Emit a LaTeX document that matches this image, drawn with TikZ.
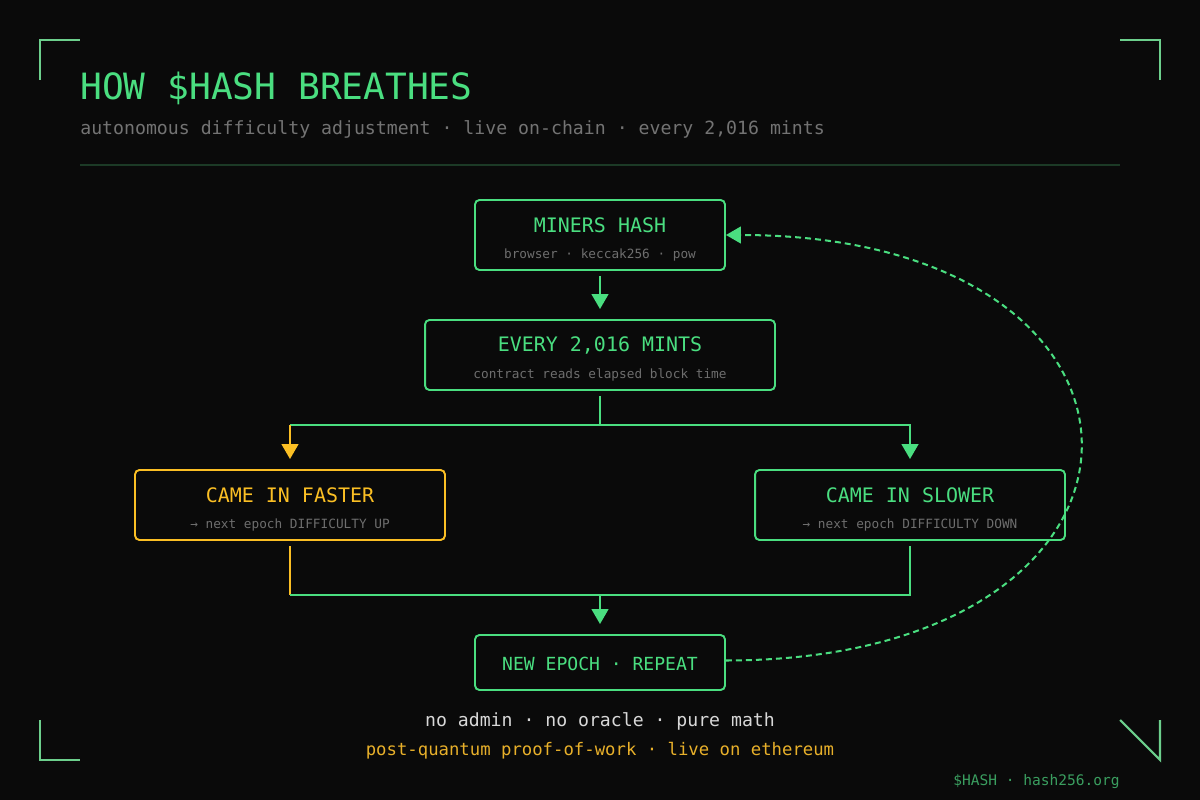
\documentclass[tikz,border=0pt]{standalone}
\usepackage{fontspec}
\setmonofont{DejaVu Sans Mono}
\usetikzlibrary{arrows.meta}

\definecolor{bg}{HTML}{0A0A0A}
\definecolor{hashgreen}{HTML}{4ADE80}
\definecolor{hashamber}{HTML}{FBBF24}
\definecolor{cornergreen}{HTML}{6CCF8C}
\definecolor{rulegreen}{HTML}{1C3A26}
\definecolor{subgray}{HTML}{737373}
\definecolor{notegray}{HTML}{6E6E6E}
\definecolor{mathwhite}{HTML}{D8D8D8}
\definecolor{pqamber}{HTML}{E8B02A}
\definecolor{footgreen}{HTML}{3A9E5F}

\newcommand{\setsize}[1]{\fontsize{#1}{#1}\selectfont}

\begin{document}
\begin{tikzpicture}[x=0.02cm, y=-0.02cm,
	box/.style={draw=hashgreen, line width=1.1pt, rounded corners=2.5pt, fill=bg, inner sep=0pt, minimum height=1.4cm},
	txt/.style={inner sep=0pt, anchor=base},
	head/.style={txt, font=\ttfamily\setsize{11.35}, text=hashgreen},
	note/.style={txt, font=\ttfamily\setsize{7.25}, text=notegray},
	wire/.style={draw=hashgreen, line width=1.15pt},
	flow/.style={wire, -{Triangle[width=9.5pt, length=8.5pt]}, shorten >=0.2cm},
	corner/.style={draw=cornergreen, line width=1.2pt}]

	\fill[bg] (0,0) rectangle (1200,800);

	% corner marks
	\draw[corner] (40,80) -- (40,40) -- (80,40);
	\draw[corner] (1120,40) -- (1160,40) -- (1160,80);
	\draw[corner] (40,720) -- (40,760) -- (80,760);
	\draw[corner] (1120,720) -- (1160,760) -- (1160,720);

	% header
	\node[txt, anchor=base west, font=\ttfamily\setsize{20.6}, text=hashgreen] at (80,100) (title) {HOW \$HASH BREATHES};
	\node[txt, anchor=base west, font=\ttfamily\setsize{10.35}, text=subgray] at (80,135) (subtitle) {autonomous difficulty adjustment · live on-chain · every 2,016 mints};
	\draw[rulegreen, line width=1pt] (80,165) -- (1120,165);

	% boxes
	\node[box, minimum width=5cm] at (600,235) (miners) {};
	\node[box, minimum width=7cm] at (600,355) (every) {};
	\node[box, minimum width=6.2cm, draw=hashamber] at (290,505) (faster) {};
	\node[box, minimum width=6.2cm] at (910,505) (slower) {};
	\node[box, minimum width=5cm, minimum height=1.1cm] at (600,662.5) (epoch) {};

	\node[head] at (600,232.5) (miners-t) {MINERS HASH};
	\node[note] at (600,258.5) (miners-n) {browser · keccak256 · pow};
	\node[head] at (600,352) (every-t) {EVERY 2,016 MINTS};
	\node[note] at (600,378) (every-n) {contract reads elapsed block time};
	\node[head, text=hashamber] at (290,502) (faster-t) {CAME IN FASTER};
	\node[note] at (290,528) (faster-n) {→ next epoch DIFFICULTY UP};
	\node[head] at (910,502) (slower-t) {CAME IN SLOWER};
	\node[note] at (910,528) (slower-n) {→ next epoch DIFFICULTY DOWN};
	\node[txt, font=\ttfamily\setsize{10.27}, text=hashgreen] at (600,670) (epoch-t) {NEW EPOCH · REPEAT};

	% connectors
	\coordinate (split) at (600,425);
	\coordinate (merge) at (600,595);

	\draw[flow, shorten <=0.1cm] (miners) -- (every);
	\draw[wire, shorten <=0.1cm] (every) -- (split);
	\draw[flow] (split) -| (slower);
	\draw[wire] (split) -- (split -| faster);
	\draw[flow, draw=hashamber, fill=hashamber] (split -| faster) -- (faster);

	\draw[wire, draw=hashamber, shorten <=0.1cm] (faster) -- (faster |- merge);
	\draw[wire] (faster |- merge) -- (merge);
	\draw[wire, shorten <=0.1cm] (slower) |- (merge);
	\draw[flow] (merge) -- (epoch);

	\draw[wire, dash pattern=on 3.4pt off 2.3pt, -{Triangle[width=9.5pt, length=8.5pt]}]
		(epoch.east) ++(0,-2) coordinate (loop) (loop) .. controls (1198,660) and (1198,235) .. (miners.east);

	% footer
	\node[txt, font=\ttfamily\setsize{10.33}, text=mathwhite] at (600,726) (motto) {no admin · no oracle · pure math};
	\node[txt, font=\ttfamily\setsize{9.84}, text=pqamber] at (600,755) (tagline) {post-quantum proof-of-work · live on ethereum};
	\node[txt, anchor=base east, font=\ttfamily\setsize{8.28}, text=footgreen] at (1120,785) (site) {\$HASH · hash256.org};
\end{tikzpicture}
\end{document}
